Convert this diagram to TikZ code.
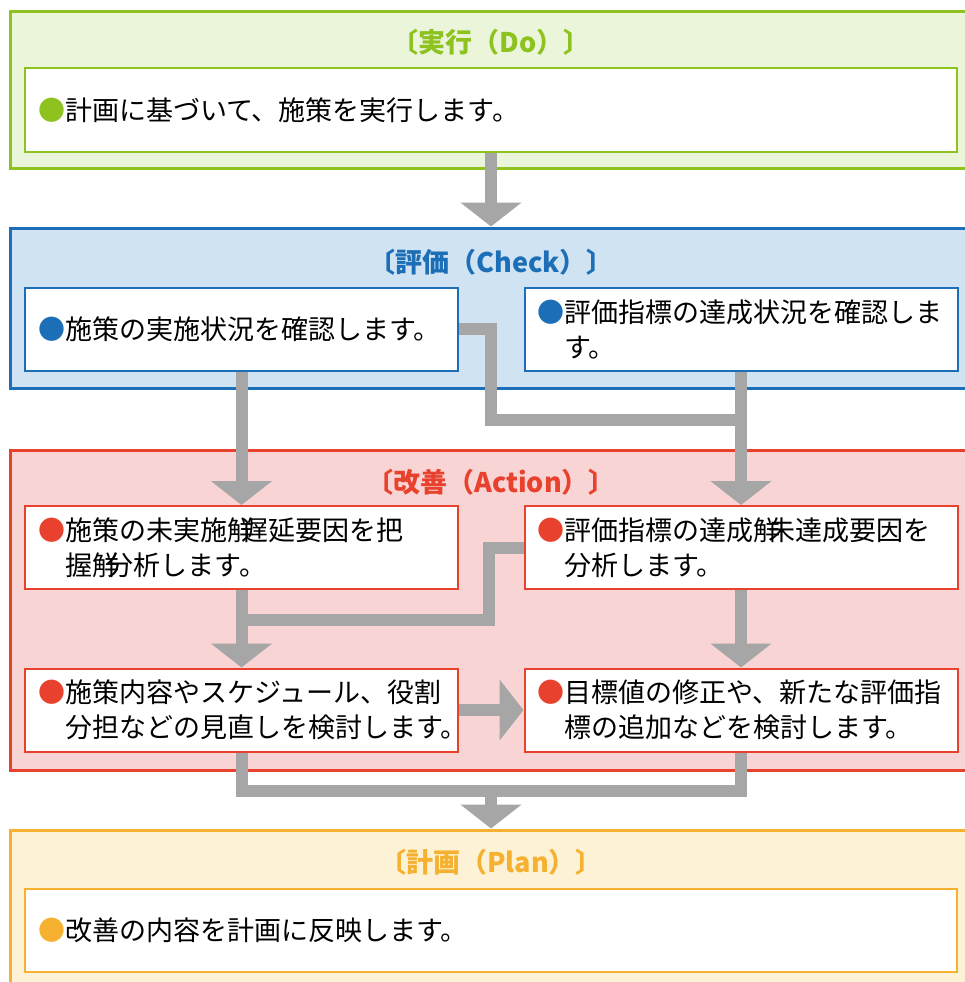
\documentclass[tikz,border=0pt]{standalone}
\usepackage{fontspec}
\setmainfont{Noto Sans CJK JP}
\usetikzlibrary{arrows.meta}
\definecolor{dogreen}{HTML}{8DC21F}
\definecolor{dofill}{HTML}{EBF5DA}
\definecolor{chkblue}{HTML}{1C6FB6}
\definecolor{chkfill}{HTML}{D0E3F2}
\definecolor{actred}{HTML}{E8412E}
\definecolor{actfill}{HTML}{F9D4D4}
\definecolor{planorange}{HTML}{F5B12F}
\definecolor{planfill}{HTML}{FEF2D6}
\definecolor{pipegray}{HTML}{A6A6A6}
\tikzset{
  phase/.style 2 args={draw=#1, fill=#2, line width=3pt, minimum width=962pt},
  heading/.style={text=#1, inner sep=2pt, font=\fontsize{27pt}{35pt}\selectfont\bfseries},
  task/.style={draw=#1, fill=white, line width=2pt, inner xsep=13pt, text width=407pt, minimum height=83pt, align=left},
  widetask/.style={task=#1, text width=906pt},
  pipe/.style={draw=pipegray, line width=12pt},
  flow/.style={pipe, -{Triangle[width=60pt,length=24pt]}},
}
\newcommand{\dotmark}[1]{\textcolor{#1}{●}}
\newcommand{\brokenmark}{\makebox[0.55em][l]{觧}}
\begin{document}
\begin{tikzpicture}[x=1pt,y=-1pt,font=\fontsize{27pt}{35pt}\selectfont]
\useasboundingbox (0,0) rectangle (964,982);
% phases
\node[phase={dogreen}{dofill}, minimum height=156pt] (do) at (491,90) {};
\node[phase={chkblue}{chkfill}, minimum height=160pt] (check) at (491,308) {};
\node[phase={actred}{actfill}, minimum height=320pt] (action) at (491,610) {};
\node[phase={planorange}{planfill}, minimum height=160pt] (plan) at (491,910) {};
\node[heading=dogreen] (dotitle) at (491,42) {〔実行（Do）〕};
\node[heading=chkblue] (checktitle) at (491,262) {〔評価（Check）〕};
\node[heading=actred] (actiontitle) at (491,482) {〔改善（Action）〕};
\node[heading=planorange] (plantitle) at (491,862) {〔計画（Plan）〕};
% tasks
\node[widetask=dogreen] (dotask) at (491,110) {\dotmark{dogreen}計画に基づいて、施策を実行します。};
\node[task=chkblue] (c1) at (241.5,329) {\dotmark{chkblue}施策の実施状況を確認します。};
\node[task=chkblue] (c2) at (741,329) {\dotmark{chkblue}評価指標の達成状況を確認しま\\\hspace*{1em}す。};
\node[task=actred] (a1) at (241.5,547.5) {\dotmark{actred}施策の未実施\brokenmark 遅延要因を把\\\hspace*{1em}握\brokenmark 分析します。};
\node[task=actred] (a2) at (741,547.5) {\dotmark{actred}評価指標の達成\brokenmark 未達成要因を\\\hspace*{1em}分析します。};
\node[task=actred] (a3) at (241.5,710) {\dotmark{actred}施策内容やスケジュール、役割\\\hspace*{1em}分担などの見直しを検討します。};
\node[task=actred] (a4) at (741,710) {\dotmark{actred}目標値の修正や、新たな評価指\\\hspace*{1em}標の追加などを検討します。};
\node[widetask=planorange] (plantask) at (491,930) {\dotmark{planorange}改善の内容を計画に反映します。};
% connectors
\coordinate (cjoin) at (741,420);
\coordinate (ajoin) at (241.5,620);
\coordinate (amerge) at (491,791);
\draw[flow] (dotask.south) -- (check.north);
\draw[flow] (c1.south) -- (a1.north);
\draw[flow] (c2.south) -- (a2.north);
\draw[pipe] (c1.east) -- ++(32,0) |- (cjoin);
\draw[flow] (a1.south) -- (a3.north);
\draw[flow] (a2.south) -- (a4.north);
\draw[pipe] (a2.west) -- ++(-35,0) |- (ajoin);
\draw[flow] (a3.east) -- (a4.west);
\draw[pipe] (a3.south) |- (amerge) -| (a4.south);
\draw[flow] (amerge) -- (plan.north);
\end{tikzpicture}
\end{document}
